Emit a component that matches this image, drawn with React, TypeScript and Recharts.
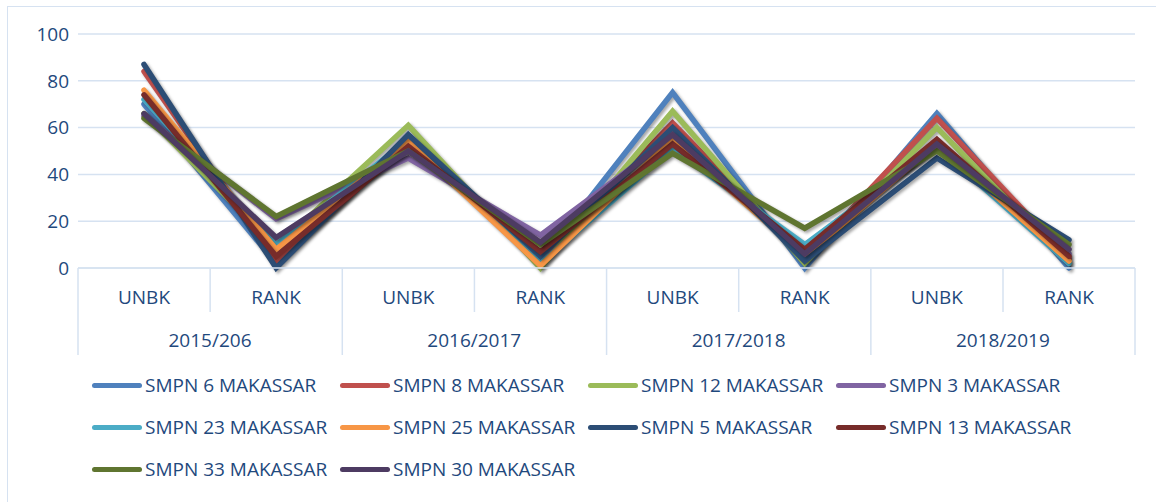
import React from 'react'
import { LineChart, Line, XAxis, YAxis, CartesianGrid } from 'recharts'

// category labels (two levels)
const categories = ['UNBK', 'RANK', 'UNBK', 'RANK', 'UNBK', 'RANK', 'UNBK', 'RANK']
const years = ['2015/206', '2016/2017', '2017/2018', '2018/2019']
const yTicks = [0, 20, 40, 60, 80, 100]

// one array per school
const smpn6 = [70, 2, 56, 3, 75, 0, 66, 0]
const smpn8 = [84, 3, 53, 4, 62, 4, 64, 4]
const smpn12 = [66, 9, 61, 0, 67, 2, 60, 2]
const smpn3 = [65, 21, 47, 14, 56, 7, 54, 6]
const smpn23 = [72, 10, 55, 2, 51, 10, 52, 2]
const smpn25 = [76, 8, 54, 1, 55, 5, 53, 3]
const smpn5 = [87, 0, 57, 5, 60, 3, 47, 12]
const smpn13 = [74, 5, 52, 7, 53, 8, 55, 5]
const smpn33 = [64, 22, 50, 10, 49, 17, 50, 10]
const smpn30 = [66, 13, 50, 11, 57, 6, 53, 8]

const series = [
  { name: 'SMPN 6 MAKASSAR', values: smpn6, color: '#4F81BD' },
  { name: 'SMPN 8 MAKASSAR', values: smpn8, color: '#C0504D' },
  { name: 'SMPN 12 MAKASSAR', values: smpn12, color: '#9BBB59' },
  { name: 'SMPN 3 MAKASSAR', values: smpn3, color: '#8064A2' },
  { name: 'SMPN 23 MAKASSAR', values: smpn23, color: '#4BACC6' },
  { name: 'SMPN 25 MAKASSAR', values: smpn25, color: '#F79646' },
  { name: 'SMPN 5 MAKASSAR', values: smpn5, color: '#2C4D75' },
  { name: 'SMPN 13 MAKASSAR', values: smpn13, color: '#772C2A' },
  { name: 'SMPN 33 MAKASSAR', values: smpn33, color: '#5F7530' },
  { name: 'SMPN 30 MAKASSAR', values: smpn30, color: '#4D3B62' },
]

const data = categories.map((c, i) => {
  const row: any = { key: i, cat: c }
  series.forEach((s) => {
    row[s.name] = s.values[i]
  })
  return row
})

const textColor = '#1F497D'
const gridColor = '#D6E2F1'
const font = '"Open Sans", sans-serif'
const half = 66

const CatTick = (props: any) => {
  const { x, y, index } = props
  const isFirst = index % 2 === 0
  const last = index === categories.length - 1
  return (
    <g>
      <line
        x1={x - half}
        x2={x - half}
        y1={y}
        y2={isFirst ? y + 87 : y + 44}
        stroke={gridColor}
        strokeWidth={1.5}
      />
      {last && (
        <line x1={x + half} x2={x + half} y1={y} y2={y + 87} stroke={gridColor} strokeWidth={1.5} />
      )}
      <text
        x={x}
        y={y + 36}
        textAnchor="middle"
        fill={textColor}
        fontSize={19}
        fontFamily={font}
      >
        {categories[index]}
      </text>
      {isFirst && (
        <text
          x={x + half}
          y={y + 79}
          textAnchor="middle"
          fill={textColor}
          fontSize={19}
          fontFamily={font}
        >
          {years[index / 2]}
        </text>
      )}
    </g>
  )
}

const App: React.FC = () => {
  return (
    <div style={{ position: 'absolute', left: 0, top: 0, width: 1156, height: 502, background: '#fff' }}>
      <style>{`.shadowed .recharts-curve { filter: drop-shadow(2px 2px 1.5px rgba(0,0,0,0.35)); }`}</style>
      <div
        style={{
          position: 'absolute',
          left: 7,
          top: 6,
          width: 1160,
          height: 520,
          border: `1.5px solid ${gridColor}`,
        }}
      />
      <div style={{ position: 'absolute', left: 0, top: 0 }}>
        <LineChart
          width={1156}
          height={502}
          data={data}
          margin={{ top: 34, right: 21, left: 18, bottom: 144 }}
        >
          <CartesianGrid vertical={false} stroke={gridColor} strokeWidth={1.5} />
          <XAxis
            dataKey="key"
            padding={{ left: half, right: half }}
            axisLine={{ stroke: gridColor, strokeWidth: 1.5 }}
            tickLine={false}
            tickSize={0}
            tickMargin={0}
            height={90}
            interval={0}
            tick={<CatTick />}
          />
          <YAxis
            domain={[0, 100]}
            ticks={yTicks}
            width={60}
            axisLine={false}
            tickLine={false}
            tickMargin={3}
            tick={{ fill: textColor, fontSize: 19, fontFamily: font }}
          />
          {series.map((s) => (
            <Line
              key={s.name}
              className="shadowed"
              dataKey={s.name}
              stroke={s.color}
              strokeWidth={5.5}
              strokeLinecap="round"
              strokeLinejoin="miter"
              dot={false}
              type="linear"
              isAnimationActive={false}
            />
          ))}
        </LineChart>
      </div>
      <div
        style={{
          position: 'absolute',
          left: 92,
          top: 364,
          width: 1000,
          display: 'flex',
          flexWrap: 'wrap',
          fontFamily: font,
          fontSize: 19,
          color: textColor,
        }}
      >
        {series.map((s) => (
          <div
            key={s.name}
            style={{ width: 248, height: 42, display: 'flex', alignItems: 'center', whiteSpace: 'nowrap' }}
          >
            <span
              style={{
                display: 'inline-block',
                width: 50,
                height: 5,
                borderRadius: 3,
                background: s.color,
                marginRight: 3,
              }}
            />
            <span>{s.name}</span>
          </div>
        ))}
      </div>
    </div>
  )
}

export default App
